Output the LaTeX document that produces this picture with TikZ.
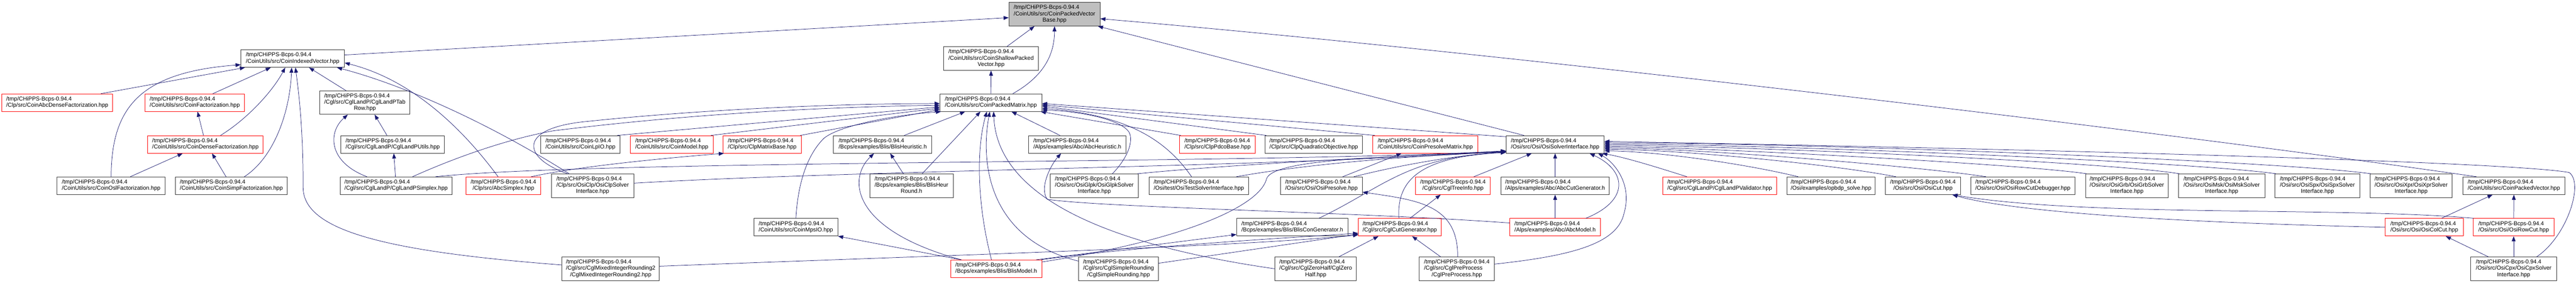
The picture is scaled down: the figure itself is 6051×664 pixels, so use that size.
\documentclass[tikz,border=0pt]{standalone}
\usepackage{fontspec}
\setmainfont{Liberation Sans}
\usepackage{tikz}
\usetikzlibrary{arrows.meta}
\definecolor{edgeblue}{HTML}{191970}
\definecolor{hdrgray}{HTML}{BFBFBF}
\newcommand{\bcps}{/tmp/CHiPPS-Bcps-0.94.4}
\newcommand{\ftwo}[1]{\begin{tabular}{@{}c@{}}\multicolumn{1}{@{}l@{}}{\bcps}\\#1\end{tabular}}
\newcommand{\fthree}[2]{\begin{tabular}{@{}c@{}}\multicolumn{1}{@{}l@{}}{\bcps}\\\multicolumn{1}{@{}l@{}}{#1}\\#2\end{tabular}}

\begin{document}
\begin{tikzpicture}[x=1pt, y=-1pt,
        file/.style={draw=black!80, line width=1.2pt, fill=white, inner sep=0pt, minimum height=41pt, font=\fontsize{13.3}{14.8}\selectfont},
        redfile/.style={file, draw=red},
        tall/.style={minimum height=55pt},
        incl/.style={draw=edgeblue, line width=0.9pt, -{Triangle[length=12pt,width=9pt]}}]
        % Draw the white page
        \fill[white] (0,0) rectangle (6051,664);
        \useasboundingbox (0,0) rectangle (6051,664);

        % The header itself and its direct includers
        \node[file, tall, fill=hdrgray, minimum width=214pt] (cpvb) at (2477,33.5) {\fthree{/CoinUtils/src/CoinPackedVector}{Base.hpp}};
        \node[file, minimum width=243pt] (iv) at (687.5,137.5) {\ftwo{/CoinUtils/src/CoinIndexedVector.hpp}};
        \node[file, tall, minimum width=222pt] (cspv) at (2328,137.5) {\fthree{/CoinUtils/src/CoinShallowPacked}{Vector.hpp}};
        \node[file, minimum width=239pt] (cpm) at (2327.5,241) {\ftwo{/CoinUtils/src/CoinPackedMatrix.hpp}};
        \node[redfile, minimum width=261pt] (abcdense) at (134.5,241) {\ftwo{/Clp/src/CoinAbcDenseFactorization.hpp}};
        \node[redfile, minimum width=233pt] (cfact) at (457.5,241) {\ftwo{/CoinUtils/src/CoinFactorization.hpp}};
        \node[file, tall, minimum width=212pt] (tabrow) at (857,241) {\fthree{/Cgl/src/CglLandP/CglLandPTab}{Row.hpp}};

        % Third row
        \node[redfile, minimum width=271pt] (cdense) at (482.5,339) {\ftwo{/CoinUtils/src/CoinDenseFactorization.hpp}};
        \node[file, minimum width=243pt] (lputils) at (922.5,339) {\ftwo{/Cgl/src/CglLandP/CglLandPUtils.hpp}};
        \node[file, minimum width=187pt] (lpio) at (1363.5,339) {\ftwo{/CoinUtils/src/CoinLpIO.hpp}};
        \node[redfile, minimum width=194pt] (cmodel) at (1578,339) {\ftwo{/CoinUtils/src/CoinModel.hpp}};
        \node[redfile, minimum width=183pt] (clpmat) at (1790.5,339) {\ftwo{/Clp/src/ClpMatrixBase.hpp}};
        \node[file, minimum width=231pt] (blisheur) at (2073.5,339) {\ftwo{/Bcps/examples/Blis/BlisHeuristic.h}};
        \node[file, minimum width=229pt] (abcheur) at (2530.5,339) {\ftwo{/Alps/examples/Abc/AbcHeuristic.h}};
        \node[redfile, minimum width=178pt] (pdco) at (2860,339) {\ftwo{/Clp/src/ClpPdcoBase.hpp}};
        \node[file, minimum width=228pt] (quadobj) at (3086,339) {\ftwo{/Clp/src/ClpQuadraticObjective.hpp}};
        \node[redfile, minimum width=246pt] (presolvemat) at (3348,339) {\ftwo{/CoinUtils/src/CoinPresolveMatrix.hpp}};
        \node[file, minimum width=230pt] (osi) at (3653,339) {\ftwo{/Osi/src/Osi/OsiSolverInterface.hpp}};

        % Fourth row
        \node[file, minimum width=254pt] (osl) at (261,436) {\ftwo{/CoinUtils/src/CoinOslFactorization.hpp}};
        \node[file, minimum width=263pt] (simp) at (543.5,436) {\ftwo{/CoinUtils/src/CoinSimpFactorization.hpp}};
        \node[file, minimum width=263pt] (lpsimplex) at (930.5,436) {\ftwo{/Cgl/src/CglLandP/CglLandPSimplex.hpp}};
        \node[redfile, minimum width=175pt] (abcsimplex) at (1182.5,436) {\ftwo{/Clp/src/AbcSimplex.hpp}};
        \node[file, tall, minimum width=194pt] (osiclp) at (1392,436) {\fthree{/Clp/src/OsiClp/OsiClpSolver}{Interface.hpp}};
        \node[file, tall, minimum width=196pt] (heurround) at (2141,436) {\fthree{/Bcps/examples/Blis/BlisHeur}{Round.h}};
        \node[file, tall, minimum width=207pt] (osiglpk) at (2570.5,436) {\fthree{/Osi/src/OsiGlpk/OsiGlpkSolver}{Interface.hpp}};
        \node[file, minimum width=234pt] (ositest) at (2816,436) {\ftwo{/Osi/test/OsiTestSolverInterface.hpp}};
        \node[file, minimum width=192pt] (osipresolve) at (3104,436) {\ftwo{/Osi/src/Osi/OsiPresolve.hpp}};
        \node[redfile, minimum width=176pt] (treeinfo) at (3413,436) {\ftwo{/Cgl/src/CglTreeInfo.hpp}};
        \node[file, minimum width=254pt] (abccutgen) at (3653,436) {\ftwo{/Alps/examples/Abc/AbcCutGenerator.h}};
        \node[redfile, minimum width=267pt] (lpvalid) at (4039.5,436) {\ftwo{/Cgl/src/CglLandP/CglLandPValidator.hpp}};
        \node[file, minimum width=208pt] (opbdp) at (4301,436) {\ftwo{/Osi/examples/opbdp\_solve.hpp}};
        \node[file, minimum width=176pt] (osicut) at (4517,436) {\ftwo{/Osi/src/Osi/OsiCut.hpp}};
        \node[file, minimum width=245pt] (rowcutdbg) at (4751.5,436) {\ftwo{/Osi/src/Osi/OsiRowCutDebugger.hpp}};
        \node[file, tall, minimum width=194pt] (osigrb) at (4996,436) {\fthree{/Osi/src/OsiGrb/OsiGrbSolver}{Interface.hpp}};
        \node[file, tall, minimum width=203pt] (osimsk) at (5218.5,436) {\fthree{/Osi/src/OsiMsk/OsiMskSolver}{Interface.hpp}};
        \node[file, tall, minimum width=199pt] (osispx) at (5443.5,436) {\fthree{/Osi/src/OsiSpx/OsiSpxSolver}{Interface.hpp}};
        \node[file, tall, minimum width=193pt] (osixpr) at (5663.5,436) {\fthree{/Osi/src/OsiXpr/OsiXprSolver}{Interface.hpp}};
        \node[file, minimum width=240pt] (cpv) at (5905,436) {\ftwo{/CoinUtils/src/CoinPackedVector.hpp}};

        % Fifth row
        \node[file, minimum width=197pt] (mpsio) at (1869.5,533.5) {\ftwo{/CoinUtils/src/CoinMpsIO.hpp}};
        \node[file, minimum width=261pt] (blisconGen) at (3035.5,533.5) {\ftwo{/Bcps/examples/Blis/BlisConGenerator.h}};
        \node[redfile, minimum width=194pt] (cutgen) at (3288,533.5) {\ftwo{/Cgl/src/CglCutGenerator.hpp}};
        \node[redfile, minimum width=212pt] (abcmodel) at (3653,533.5) {\ftwo{/Alps/examples/Abc/AbcModel.h}};
        \node[redfile, minimum width=183pt] (colcut) at (5694.5,533.5) {\ftwo{/Osi/src/Osi/OsiColCut.hpp}};
        \node[redfile, minimum width=189pt] (rowcut) at (5904.5,533.5) {\ftwo{/Osi/src/Osi/OsiRowCut.hpp}};

        % Bottom row
        \node[file, tall, minimum width=229pt] (mir2) at (1434.5,631) {\fthree{/Cgl/src/CglMixedIntegerRounding2}{/CglMixedIntegerRounding2.hpp}};
        \node[redfile, minimum width=214pt] (blismodel) at (2340,631) {\ftwo{/Bcps/examples/Blis/BlisModel.h}};
        \node[file, tall, minimum width=187pt] (simpleround) at (2627.5,631) {\fthree{/Cgl/src/CglSimpleRounding}{/CglSimpleRounding.hpp}};
        \node[file, tall, minimum width=191pt] (zerohalf) at (3090.5,631) {\fthree{/Cgl/src/CglZeroHalf/CglZero}{Half.hpp}};
        \node[file, tall, minimum width=176pt] (preprocess) at (3422,631) {\fthree{/Cgl/src/CglPreProcess}{/CglPreProcess.hpp}};
        \node[file, tall, minimum width=201pt] (osicpx) at (5904.5,631) {\fthree{/Osi/src/OsiCpx/OsiCpxSolver}{Interface.hpp}};

        % Includes of the header
        \draw[incl] ([yshift=8.5]iv.east) -- ([yshift=-8]cpvb.west);
        \draw[incl] ([xshift=37]cspv.north) -- ([xshift=-47]cpvb.south);
        \draw[incl] ([xshift=51.5]cpm.north) .. controls (2450,180) and (2477,130) .. (cpvb.south);
        \draw[incl] (cpm.north) -- (cspv.south);
        \draw[incl] ([xshift=-88]cpv.north) .. controls (5200,325) and (3600,130) .. ([yshift=-10.5]cpvb.east);
        \draw[incl] ([xshift=-73]osi.north) -- ([xshift=102]cpvb.south);

        % Includes of CoinIndexedVector
        \draw[incl] (osl.north) .. controls (262,260) and (320,170) .. ([yshift=-14.5]iv.west);
        \draw[incl] ([xshift=102.5]abcdense.north) -- ([xshift=10]iv.south west);
        \draw[incl] ([xshift=42.5]cfact.north) -- ([xshift=-51.5]iv.south);
        \draw[incl] ([xshift=35.5]cdense.north) .. controls (580,280) and (640,215) .. ([xshift=-17.5]iv.south);
        \draw[incl] ([xshift=30.5]simp.north) .. controls (650,365) and (682,250) .. ([xshift=-2.5]iv.south);
        \draw[incl] ([yshift=9]mir2.west) .. controls (900,590) and (712,540) .. (712,440) .. controls (712,300) and (702,220) .. ([xshift=6.5]iv.south);
        \draw[incl] ([xshift=-44]tabrow.north) -- ([xshift=38.5]iv.south);
        \draw[incl] ([xshift=-55]osiclp.north) .. controls (1150,290) and (950,200) .. ([xshift=-18]iv.south east);
        \draw[incl] ([xshift=-12.5]abcsimplex.north) .. controls (1100,320) and (980,190) .. ([yshift=-10]iv.east);

        % Factorizations
        \draw[incl] ([xshift=-4.5]cdense.north) -- ([xshift=6.5]cfact.south);
        \draw[incl] ([xshift=45]osl.north) -- ([xshift=-53.5]cdense.south);
        \draw[incl] ([xshift=-12.5]simp.north) -- ([xshift=15.5]cdense.south);

        % Lift-and-project
        \draw[incl] ([xshift=-13.5]lputils.north) -- ([xshift=23]tabrow.south);
        \draw[incl] ([xshift=-68.5]lpsimplex.north) .. controls (770,380) and (770,310) .. ([xshift=-40]tabrow.south);
        \draw[incl] ([xshift=-1.5]lpsimplex.north) -- ([xshift=2.5]lputils.south);
        \draw[incl] ([xshift=38.5]lpsimplex.north) .. controls (1080,365) and (1200,325) .. (1300,307) .. controls (1600,270) and (1900,252) .. ([yshift=-6]cpm.west);
        \draw[incl] ([xshift=92.5]lpsimplex.north) .. controls (1400,375) and (3000,385) .. ([yshift=-15]osi.west);

        % Clp
        \draw[incl] ([xshift=-59]osiclp.north) .. controls (1225,370) and (1215,300) .. (1380,285) .. controls (1600,262) and (1900,244) .. ([yshift=-2]cpm.west);
        \draw[incl] ([yshift=6]osiclp.east) .. controls (2000,400) and (3000,392) .. ([yshift=-16]osi.west);
        \draw[incl] ([xshift=65.5]abcsimplex.north) .. controls (1350,392) and (1550,372) .. ([xshift=2]clpmat.south west);

        % Includes of CoinPackedMatrix
        \draw[incl] ([xshift=86.5]lpio.north) -- ([yshift=-10]cpm.west);
        \draw[incl] ([xshift=92]cmodel.north) -- ([yshift=-13]cpm.west);
        \draw[incl] ([xshift=89.5]clpmat.north) -- ([yshift=-16]cpm.west);
        \draw[incl] (mpsio.north) .. controls (1875,420) and (1900,360) .. (1935,325) .. controls (1970,295) and (2100,270) .. ([xshift=3]cpm.south west);
        \draw[incl] ([xshift=50.5]blisheur.north) -- ([xshift=-60.5]cpm.south);
        \draw[incl] ([xshift=25]heurround.north) -- ([xshift=-24.5]cpm.south);
        \draw[incl] ([xshift=-11]blismodel.north) .. controls (2295,480) and (2293,350) .. ([xshift=-9.5]cpm.south);
        \draw[incl] ([yshift=18]simpleround.west) .. controls (2320,560) and (2303,380) .. ([xshift=-2.5]cpm.south);
        \draw[incl] (zerohalf.west) .. controls (2500,560) and (2340,420) .. ([xshift=6.5]cpm.south);
        \draw[incl] ([xshift=-40.5]abcheur.north) -- ([xshift=48.5]cpm.south);
        \draw[incl] ([xshift=42.5]osiglpk.north) .. controls (2640,380) and (2660,345) .. (2655,318) .. controls (2650,285) and (2550,262) .. ([yshift=-17]cpm.east);
        \draw[incl] ([xshift=3]pdco.north west) -- ([xshift=-3]cpm.south east);
        \draw[incl] ([xshift=3]quadobj.north west) -- ([yshift=-8]cpm.east);
        \draw[incl] ([xshift=5]presolvemat.north west) -- ([yshift=-5]cpm.east);
        \draw[incl] ([yshift=18]osi.west) -- ([yshift=-2]cpm.east);
        \draw[incl] ([xshift=-17]ositest.north) .. controls (2740,330) and (2650,270) .. ([yshift=-13]cpm.east);

        % Includes of OsiSolverInterface, from the left
        \draw[incl] ([xshift=-3]osiglpk.north east) .. controls (2900,385) and (3300,366) .. ([yshift=-16]osi.west);
        \draw[incl] ([xshift=88]ositest.north) .. controls (3100,380) and (3350,365) .. ([yshift=-17]osi.west);
        \draw[incl] ([xshift=76]osipresolve.north) .. controls (3300,385) and (3420,365) .. ([yshift=-18]osi.west);
        \draw[incl] ([xshift=62.5]blisconGen.north) .. controls (3250,440) and (3300,370) .. ([yshift=-18]osi.west);
        \draw[incl] ([xshift=-2]cutgen.north) .. controls (3280,420) and (3340,368) .. ([yshift=-19]osi.west);
        \draw[incl] ([yshift=16]blismodel.east) .. controls (2800,560) and (2960,480) .. (2975,420) .. controls (2990,370) and (3300,368) .. ([yshift=-17]osi.west);
        \draw[incl] ([xshift=50]osipresolve.north) -- ([xshift=-56]presolvemat.south);

        % Cut generators and Abc
        \draw[incl] ([xshift=49]treeinfo.north) -- ([xshift=-55]osi.south);
        \draw[incl] (abccutgen.north) -- (osi.south);
        \draw[incl] (abcmodel.north) -- (abccutgen.south);
        \draw[incl] ([xshift=72]abcmodel.north) .. controls (3830,470) and (3820,400) .. ([xshift=81]osi.south);
        \draw[incl] ([yshift=11]preprocess.east) .. controls (3700,600) and (3800,570) .. (3815,500) .. controls (3835,430) and (3790,380) .. ([xshift=101]osi.south);
        \draw[incl] ([xshift=2]preprocess.north) .. controls (3425,480) and (3330,470) .. ([yshift=-15]osipresolve.east);
        \draw[incl] ([xshift=-38]preprocess.north) -- ([xshift=29]cutgen.south);
        \draw[incl] ([xshift=24]cutgen.north) -- ([xshift=-29]treeinfo.south);
        \draw[incl] ([xshift=54.5]zerohalf.north) -- ([xshift=-50]cutgen.south);
        \draw[incl] ([yshift=13]simpleround.east) -- ([yshift=-16]cutgen.west);
        \draw[incl] ([yshift=6]mir2.east) .. controls (2200,600) and (2900,580) .. ([yshift=-18]cutgen.west);
        \draw[incl] ([xshift=-2]blismodel.north east) .. controls (2650,580) and (3000,560) .. ([yshift=-14]cutgen.west);
        \draw[incl] ([xshift=94]blismodel.north) -- ([yshift=-17]blisconGen.west);
        \draw[incl] ([xshift=-82]blismodel.north) -- (mpsio.south east);
        \draw[incl] ([xshift=-82]blismodel.north) .. controls (2000,540) and (1990,420) .. ([xshift=-20.5]blisheur.south);
        \draw[incl] ([xshift=-19]heurround.north) -- ([xshift=17.5]blisheur.south);
        \draw[incl] ([yshift=10]abcmodel.west) .. controls (3200,498) and (2600,488) .. (2460,468) .. controls (2440,440) and (2470,385) .. ([xshift=-38]abcheur.south);

        % Includes of OsiSolverInterface, from the right
        \draw[incl] ([xshift=-77]lpvalid.north) .. controls (3900,395) and (3820,370) .. ([xshift=-5]osi.south east);
        \draw[incl] ([xshift=-77]opbdp.north) .. controls (4100,385) and (3900,356) .. ([yshift=-15]osi.east);
        \draw[incl] ([xshift=-63.5]osicut.north) .. controls (4300,385) and (3950,352) .. ([yshift=-11]osi.east);
        \draw[incl] ([xshift=-86.5]rowcutdbg.north) .. controls (4500,390) and (4000,349) .. ([yshift=-8]osi.east);
        \draw[incl] ([xshift=3]osigrb.north west) .. controls (4750,385) and (4000,346) .. ([yshift=-5]osi.east);
        \draw[incl] ([xshift=3]osimsk.north west) .. controls (4950,380) and (4100,343) .. ([yshift=-2]osi.east);
        \draw[incl] ([xshift=3]osispx.north west) .. controls (5150,380) and (4200,340) .. ([yshift=1]osi.east);
        \draw[incl] ([xshift=3]osixpr.north west) .. controls (5350,378) and (4300,337) .. ([yshift=4]osi.east);
        \draw[incl] ([xshift=54]osicpx.north) .. controls (6030,555) and (6070,430) .. (6035,405) .. controls (5900,380) and (4800,350) .. ([yshift=7]osi.east);

        % Cuts
        \draw[incl] (colcut.west) .. controls (5000,520) and (4700,490) .. ([xshift=69]osicut.south);
        \draw[incl] ([xshift=-94]rowcut.north) .. controls (5500,485) and (4900,510) .. ([xshift=69]osicut.south);
        \draw[incl] ([xshift=40.5]colcut.north) -- ([xshift=-50]cpv.south);
        \draw[incl] (rowcut.north) -- (cpv.south);
        \draw[incl] ([xshift=-59.5]osicpx.north) -- ([xshift=50.5]colcut.south);
        \draw[incl] (osicpx.north) -- (rowcut.south);
    \end{tikzpicture}
\end{document}
